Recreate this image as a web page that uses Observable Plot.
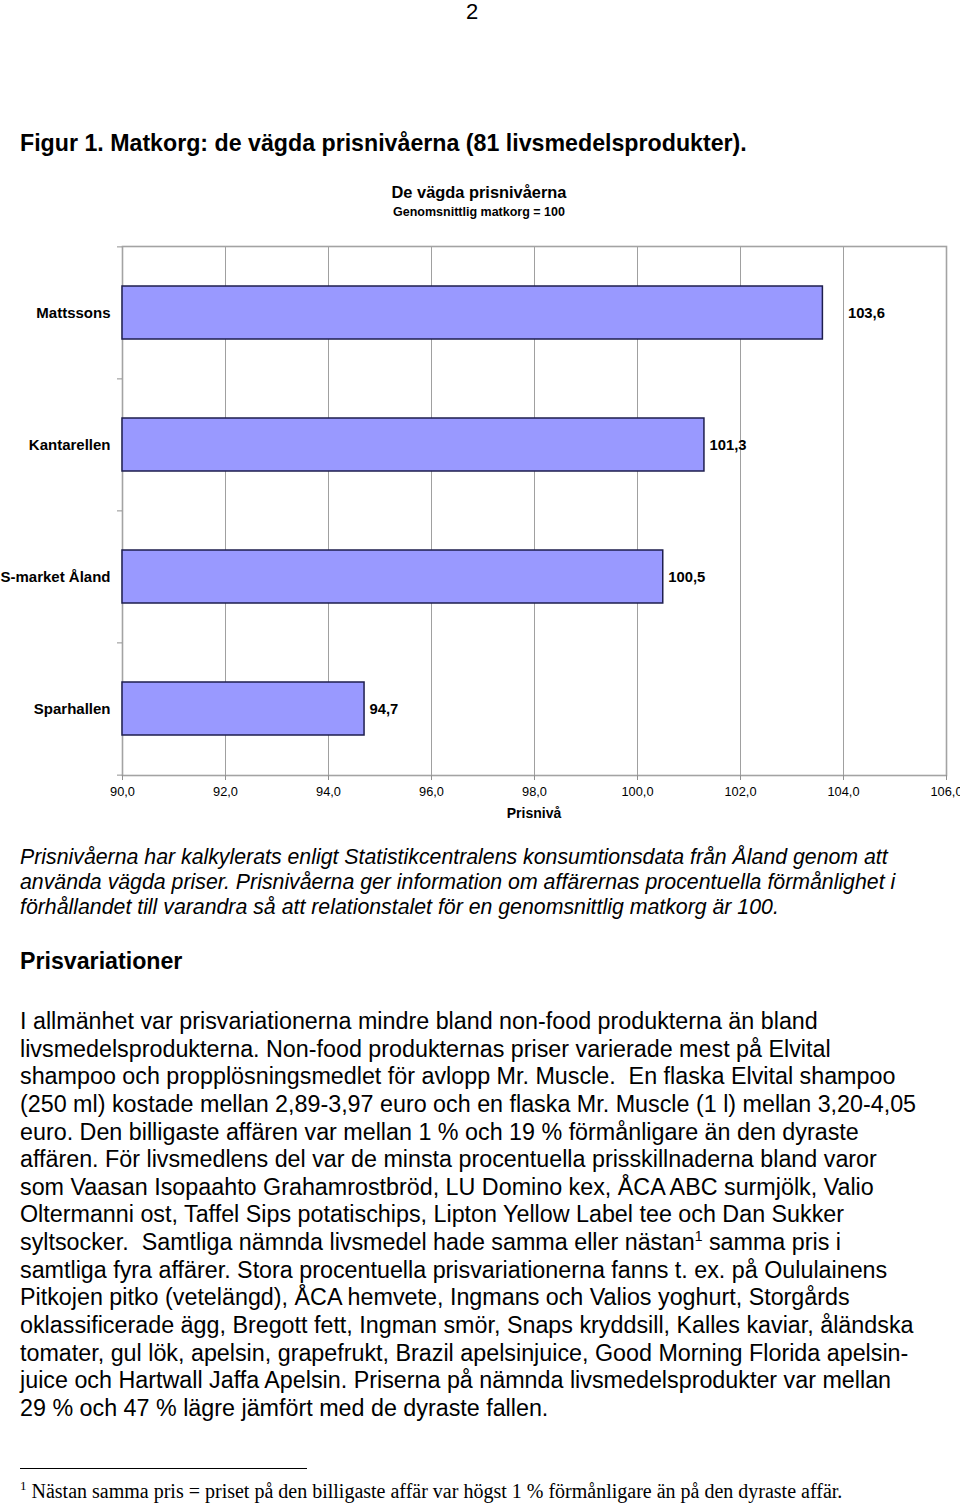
<!DOCTYPE html>
<html>
<head>
<meta charset="utf-8">
<script src="https://cdn.jsdelivr.net/npm/d3@7"></script>
<script src="https://cdn.jsdelivr.net/npm/@observablehq/plot@0.6"></script>
<style>
  html, body { margin: 0; padding: 0; background: #fff; }
  body { width: 960px; height: 1505px; position: relative; overflow: hidden; font-family: "Liberation Sans", Arial, sans-serif; color: #000; }
  .abs { position: absolute; white-space: pre; }
  .line { display: block; white-space: pre; }
  #pagenum { left: 0; width: 944px; text-align: center; top: 0px; font-size: 22px; line-height: 24.6px; }
  #figtitle { left: 20px; top: 130.6px; font-size: 23.2px; font-weight: bold; line-height: 25.9px; }
  #ctitle { left: 0; width: 958px; text-align: center; top: 183px; font-size: 16.4px; font-weight: bold; line-height: 18.3px; }
  #csub { left: 0; width: 958px; text-align: center; top: 205px; font-size: 12.5px; font-weight: bold; line-height: 14px; }
  #xlabel { left: 0; width: 1068px; text-align: center; top: 806px; font-size: 14px; font-weight: bold; line-height: 15.6px; }
  #chart { position: absolute; left: 0; top: 230px; }
  #ital { left: 20px; top: 845px; font-size: 21.3px; font-style: italic; line-height: 25px; }
  #ital .line { height: 25px; }
  #h2 { left: 20px; top: 949px; font-size: 23.2px; font-weight: bold; line-height: 25.9px; }
  #body { left: 20px; top: 1008px; font-size: 23.3px; line-height: 27.64px; }
  #body .line { height: 27.64px; }
  .sup { font-size: 14px; position: relative; top: -9px; line-height: 0; }
  #rule { position: absolute; left: 20px; top: 1468px; width: 287px; height: 0; border-top: 1px solid #000; }
  #foot { left: 20px; top: 1480px; font-family: "Liberation Serif", "Times New Roman", serif; font-size: 20px; line-height: 22.1px; }
  #foot .fsup { font-size: 13px; position: relative; top: -8px; line-height: 0; }
</style>
</head>
<body>
<div id="pagenum" class="abs">2</div>
<div id="figtitle" class="abs">Figur 1. Matkorg: de vägda prisnivåerna (81 livsmedelsprodukter).</div>
<div id="ctitle" class="abs">De vägda prisnivåerna</div>
<div id="csub" class="abs">Genomsnittlig matkorg = 100</div>
<div id="chart"></div>
<div id="xlabel" class="abs">Prisnivå</div>
<div id="ital" class="abs"><span class="line">Prisnivåerna har kalkylerats enligt Statistikcentralens konsumtionsdata från Åland genom att</span><span class="line">använda vägda priser. Prisnivåerna ger information om affärernas procentuella förmånlighet i</span><span class="line">förhållandet till varandra så att relationstalet för en genomsnittlig matkorg är 100.</span></div>
<div id="h2" class="abs">Prisvariationer</div>
<div id="body" class="abs"><span class="line">I allmänhet var prisvariationerna mindre bland non-food produkterna än bland</span><span class="line">livsmedelsprodukterna. Non-food produkternas priser varierade mest på Elvital</span><span class="line">shampoo och propplösningsmedlet för avlopp Mr. Muscle.  En flaska Elvital shampoo</span><span class="line">(250 ml) kostade mellan 2,89-3,97 euro och en flaska Mr. Muscle (1 l) mellan 3,20-4,05</span><span class="line">euro. Den billigaste affären var mellan 1 % och 19 % förmånligare än den dyraste</span><span class="line">affären. För livsmedlens del var de minsta procentuella prisskillnaderna bland varor</span><span class="line">som Vaasan Isopaahto Grahamrostbröd, LU Domino kex, ÅCA ABC surmjölk, Valio</span><span class="line">Oltermanni ost, Taffel Sips potatischips, Lipton Yellow Label tee och Dan Sukker</span><span class="line">syltsocker.  Samtliga nämnda livsmedel hade samma eller nästan<span class="sup">1</span> samma pris i</span><span class="line">samtliga fyra affärer. Stora procentuella prisvariationerna fanns t. ex. på Oululainens</span><span class="line">Pitkojen pitko (vetelängd), ÅCA hemvete, Ingmans och Valios yoghurt, Storgårds</span><span class="line">oklassificerade ägg, Bregott fett, Ingman smör, Snaps kryddsill, Kalles kaviar, åländska</span><span class="line">tomater, gul lök, apelsin, grapefrukt, Brazil apelsinjuice, Good Morning Florida apelsin-</span><span class="line">juice och Hartwall Jaffa Apelsin. Priserna på nämnda livsmedelsprodukter var mellan</span><span class="line">29 % och 47 % lägre jämfört med de dyraste fallen.</span></div>
<div id="rule"></div>
<div id="foot" class="abs"><span class="fsup">1</span> Nästan samma pris = priset på den billigaste affär var högst 1 % förmånligare än på den dyraste affär.</div>

<script>
// ---- data ----
const stores = ["Mattssons", "Kantarellen", "S-market Åland", "Sparhallen"];
const values = [103.6, 101.3, 100.5, 94.7];
const xTicks = [90, 92, 94, 96, 98, 100, 102, 104, 106];

const data = stores.map((store, i) => ({store, value: values[i]}));
const fmt = v => v.toFixed(1).replace(".", ",");
const xMin = xTicks[0];

const W = 960, H = 600, mTop = 16, mBottom = 55, mLeft = 122, mRight = 14;
const step = (H - mTop - mBottom) / stores.length;

const chart = Plot.plot({
  width: W,
  height: H,
  marginTop: mTop,
  marginBottom: mBottom,
  marginLeft: mLeft,
  marginRight: mRight,
  style: {fontFamily: "'Liberation Sans', Arial, sans-serif", fontSize: "12px", color: "#000", background: "#fff", overflow: "visible"},
  x: {domain: [xTicks[0], xTicks[xTicks.length - 1]]},
  y: {domain: stores, paddingInner: 0.6, paddingOuter: 0.3},
  marks: [
    Plot.gridX(xTicks, {stroke: "#a0a0a0", strokeOpacity: 1, strokeWidth: 1}),
    Plot.frame({stroke: "#a3a3a3", strokeWidth: 1.6}),
    Plot.barX(data, {x1: () => xMin, x2: "value", y: "store", fill: "#9999ff", stroke: "#1e1e4e", strokeWidth: 1.5}),
    Plot.text(data.slice(0, 1), {x: "value", y: "store", text: d => fmt(d.value), dx: 25, textAnchor: "start", fontWeight: "bold", fontSize: 14.8, fill: "#000"}),
    Plot.text(data.slice(1), {x: "value", y: "store", text: d => fmt(d.value), dx: 5, textAnchor: "start", fontWeight: "bold", fontSize: 14.8, fill: "#000"}),
    Plot.axisY({tickSize: 0, tickPadding: 12, fontWeight: "bold", fontSize: 15, fill: "#000", label: null}),
    Plot.axisY({text: null, tickSize: 5, dy: -step / 2, stroke: "#909090", label: null}),
    Plot.axisY({ticks: [stores[stores.length - 1]], text: null, tickSize: 5, dy: step / 2, stroke: "#909090", label: null}),
    Plot.axisX(xTicks, {tickSize: 5, tickPadding: 6, tickFormat: fmt, fontSize: 12.8, stroke: "#909090", fill: "#000", label: null})
  ]
});
document.getElementById("chart").appendChild(chart);
</script>
</body>
</html>
